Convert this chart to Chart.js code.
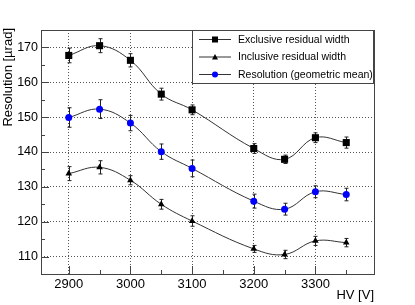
<!DOCTYPE html>
<html>
<head>
<meta charset="utf-8">
<script src="https://cdn.jsdelivr.net/npm/chart.js@4.4.1/dist/chart.umd.min.js"></script>
<style>
  html, body { margin: 0; padding: 0; background: #fff; }
  #wrap { width: 415px; height: 305px; }
</style>
</head>
<body>
<div id="wrap"><canvas id="chart-area" width="415" height="305"></canvas></div>
<script>
// HV points [V]
var hv = [2900, 2950, 3000, 3050, 3100, 3200, 3250, 3300, 3350];

// widths in µrad
var exclusive    = [167.7, 170.5, 166.3, 156.6, 152.1, 141.0, 137.9, 144.1, 142.7];
var exclusiveErr = [2.1, 2.0, 1.9, 1.7, 1.4, 1.4, 1.2, 1.4, 1.6];
var inclusive    = [133.8, 135.6, 131.9, 125.0, 120.2, 112.2, 110.6, 114.5, 114.0];
var inclusiveErr = [2.0, 1.9, 1.3, 1.4, 1.5, 1.0, 1.2, 1.3, 1.2];
var resolution    = [149.9, 152.3, 148.3, 140.1, 135.3, 125.9, 123.6, 128.6, 127.8];
var resolutionErr = [2.8, 2.7, 2.2, 2.2, 2.4, 2.0, 1.7, 1.7, 1.8];

var xTicks = [2900, 3000, 3100, 3200, 3300];
var yTicks = [110, 120, 130, 140, 150, 160, 170];
var xMinor = [2950, 3050, 3150, 3250, 3350];
var yMinor = [105, 115, 125, 135, 145, 155, 165, 175];

var seriesNames = ['Exclusive residual width', 'Inclusive residual width', 'Resolution (geometric mean)'];
var errs = [exclusiveErr, inclusiveErr, resolutionErr];

function pts(arr) {
  return hv.map(function (x, i) { return { x: x, y: arr[i] }; });
}

function series(label, arr, style, radius, color) {
  return {
    label: label,
    data: pts(arr),
    borderColor: '#333',
    borderWidth: 1,
    tension: 0.4,
    pointStyle: style,
    pointRadius: radius,
    pointHoverRadius: radius,
    pointBackgroundColor: color,
    pointBorderColor: color,
    pointBorderWidth: 0
  };
}

var errorBars = {
  id: 'errorBars',
  beforeDatasetsDraw: function (chart) {
    var ctx = chart.ctx, xs = chart.scales.x, ys = chart.scales.y;
    ctx.save();
    ctx.strokeStyle = '#222';
    ctx.lineWidth = 1;
    chart.data.datasets.forEach(function (ds, k) {
      ds.data.forEach(function (p, i) {
        var px = Math.round(xs.getPixelForValue(p.x)) + 0.5;
        var y1 = ys.getPixelForValue(p.y - errs[k][i]);
        var y2 = ys.getPixelForValue(p.y + errs[k][i]);
        ctx.beginPath();
        ctx.moveTo(px, y1); ctx.lineTo(px, y2);
        ctx.moveTo(px - 2, y1); ctx.lineTo(px + 2, y1);
        ctx.moveTo(px - 2, y2); ctx.lineTo(px + 2, y2);
        ctx.stroke();
      });
    });
    ctx.restore();
  }
};

var frame = {
  id: 'frame',
  afterDatasetsDraw: function (chart) {
    var ctx = chart.ctx, a = chart.chartArea, xs = chart.scales.x, ys = chart.scales.y;
    ctx.save();
    ctx.strokeStyle = '#444';
    ctx.lineWidth = 1;
    ctx.strokeRect(a.left + 0.5, a.top + 0.5, a.right - a.left, a.bottom - a.top);
    ctx.beginPath();
    yTicks.forEach(function (v) {
      var y = Math.round(ys.getPixelForValue(v)) + 0.5;
      ctx.moveTo(a.left, y); ctx.lineTo(a.left + 8, y);
    });
    yMinor.forEach(function (v) {
      var y = Math.round(ys.getPixelForValue(v)) + 0.5;
      ctx.moveTo(a.left, y); ctx.lineTo(a.left + 4, y);
    });
    xTicks.forEach(function (v) {
      var x = Math.round(xs.getPixelForValue(v)) + 0.5;
      ctx.moveTo(x, a.bottom); ctx.lineTo(x, a.bottom - 8);
    });
    xMinor.forEach(function (v) {
      var x = Math.round(xs.getPixelForValue(v)) + 0.5;
      ctx.moveTo(x, a.bottom); ctx.lineTo(x, a.bottom - 4);
    });
    ctx.stroke();

    // axis titles
    ctx.fillStyle = '#000';
    ctx.font = '13px "Liberation Sans", Arial, sans-serif';
    ctx.textAlign = 'right';
    ctx.textBaseline = 'middle';
    ctx.fillText('HV [V]', a.right, 295);
    ctx.translate(8, 28);
    ctx.rotate(-Math.PI / 2);
    ctx.fillText('Resolution [µrad]', 0, 0);
    ctx.restore();
  }
};

var legendBox = {
  id: 'legendBox',
  afterDraw: function (chart) {
    var ctx = chart.ctx;
    var bx = 192, by = 30, bw = 181, bh = 53;
    var rows = [39.5, 57, 74.5];
    ctx.save();
    ctx.fillStyle = '#fff';
    ctx.fillRect(bx, by, bw, bh);
    ctx.strokeStyle = '#444';
    ctx.lineWidth = 1;
    ctx.strokeRect(bx + 0.5, by + 0.5, bw, bh);
    ctx.font = '10.5px "Liberation Sans", Arial, sans-serif';
    ctx.textAlign = 'left';
    ctx.textBaseline = 'middle';
    rows.forEach(function (y, k) {
      ctx.strokeStyle = '#333';
      ctx.beginPath();
      ctx.moveTo(199, y); ctx.lineTo(231, y);
      ctx.stroke();
      if (k === 0) {
        ctx.fillStyle = '#000';
        ctx.fillRect(212, y - 3, 6, 6);
      } else if (k === 1) {
        ctx.fillStyle = '#000';
        ctx.beginPath();
        ctx.moveTo(215, y - 3); ctx.lineTo(218, y + 2.5); ctx.lineTo(212, y + 2.5);
        ctx.closePath(); ctx.fill();
      } else {
        ctx.fillStyle = '#0000ff';
        ctx.beginPath();
        ctx.arc(215, y, 3, 0, Math.PI * 2);
        ctx.fill();
      }
      ctx.fillStyle = '#000';
      ctx.fillText(seriesNames[k], 238, y + 0.5);
    });
    ctx.restore();
  }
};

var config = {
  type: 'line',
  data: {
    datasets: [
      series(seriesNames[0], exclusive, 'rect', 5, '#000'),
      series(seriesNames[1], inclusive, 'triangle', 3.8, '#000'),
      series(seriesNames[2], resolution, 'circle', 3.5, '#0000ff')
    ]
  },
  options: {
    responsive: false,
    animation: false,
    events: [],
    layout: { padding: { top: 30, right: 41, left: 0, bottom: 0 } },
    plugins: { legend: { display: false }, tooltip: { enabled: false } },
    scales: {
      x: {
        type: 'linear',
        min: 2855,
        max: 3395,
        afterBuildTicks: function (s) { s.ticks = xTicks.map(function (v) { return { value: v }; }); },
        afterFit: function (s) { s.height = 31; },
        grid: { color: '#555', lineWidth: 1, drawTicks: false },
        border: { display: false, dash: [1, 2] },
        ticks: {
          color: '#000',
          padding: 3,
          maxRotation: 0,
          font: { family: '"Liberation Sans", Arial, sans-serif', size: 13 },
          callback: function (v) { return String(v); }
        }
      },
      y: {
        min: 105,
        max: 175,
        afterBuildTicks: function (s) { s.ticks = yTicks.map(function (v) { return { value: v }; }); },
        afterFit: function (s) { s.width = 41; },
        grid: { color: '#555', lineWidth: 1, drawTicks: false },
        border: { display: false, dash: [1, 2] },
        ticks: {
          color: '#000',
          padding: 3,
          font: { family: '"Liberation Sans", Arial, sans-serif', size: 12.5 },
          callback: function (v) { return String(v); }
        }
      }
    }
  },
  plugins: [errorBars, frame, legendBox]
};

var ctx = document.getElementById('chart-area').getContext('2d');
window.myChart = new Chart(ctx, config);
</script>
</body>
</html>
